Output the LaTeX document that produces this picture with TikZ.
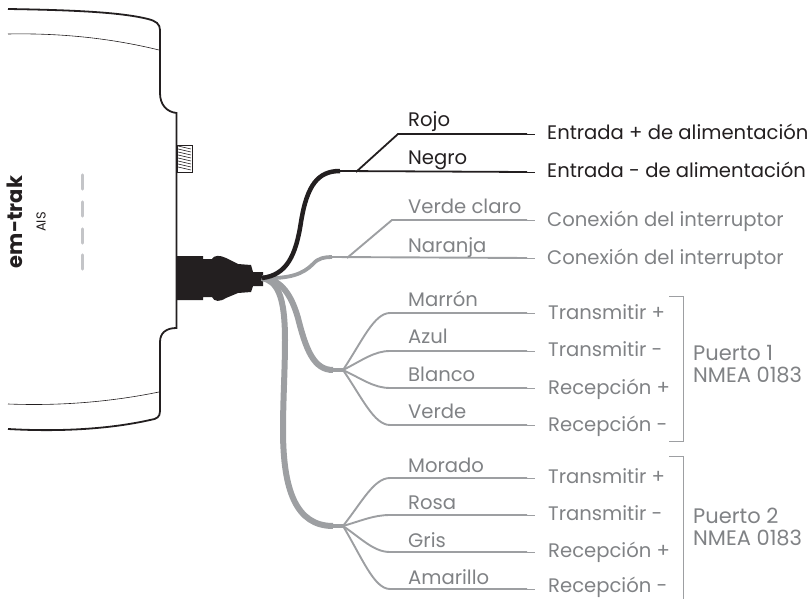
\documentclass[tikz,border=0pt]{standalone}
\usepackage{fontspec}
\setmainfont{Poppins}
\usetikzlibrary{positioning}
\definecolor{wiregray}{HTML}{9D9FA2}
\definecolor{labelgray}{HTML}{808285}
\definecolor{inkblack}{HTML}{231F20}
\definecolor{ledgray}{HTML}{C4C5C8}
\tikzset{%
  blackwire/.style = {draw=inkblack,line width=1.8pt},
  thickblack/.style = {draw=inkblack,line width=4.5pt},
  graywire/.style = {draw=wiregray,line width=1.9pt},
  thickgray/.style = {draw=wiregray,line width=6pt},
  casing/.style = {draw=inkblack,line width=1.8pt},
  hairline/.style = {draw=inkblack,line width=0.6pt},
  colorlabel/.style = {font=\fontsize{19.6}{22}\selectfont,text=labelgray,anchor=base west,inner sep=0pt},
  blacklabel/.style = {colorlabel,text=inkblack},
  portlabel/.style = {colorlabel,font=\fontsize{21}{22}\selectfont},
  tickline/.style = {draw=wiregray,line width=0.6pt}
}
\begin{document}
\begin{tikzpicture}[x=1pt,y=-1pt]
   \useasboundingbox (0,0) rectangle (812,599);
   % unit casing
   \draw[casing] (8,9) .. controls (70,10) and (120,12) .. (148,19) .. controls (156,21) and (160,24) .. (160,30)
      -- (160,93) .. controls (160,105) and (167,112) .. (176.5,113) -- (176.5,328)
      .. controls (166,328) and (160,333) .. (160,342) -- (160,411) .. controls (160,417) and (157,419) .. (150,420)
      .. controls (110,429) and (60,432) .. (8,429);
   \draw[hairline] (8,34) .. controls (60,33) and (110,38) .. (159,50);
   \draw[hairline] (8,404) .. controls (60,406) and (110,402) .. (159,392);
   % antenna thread
   \draw[hairline,line width=0.5pt] (177,145) rectangle (192,172);
   \foreach \yy in {146,149,...,167} \draw[hairline] (178,\yy) -- (191,\yy+3);
   % leds
   \foreach \yy in {174,201,228,254} \draw[draw=ledgray,line width=3.4pt,line cap=round] (82.5,\yy+1) -- (82.5,\yy+15);
   % name
   \node[rotate=90,font=\fontsize{21}{21}\selectfont\bfseries,text=inkblack,inner sep=0pt] (brand) at (14.5,222) {em-trak};
   \node[rotate=90,font=\fontsize{13}{13}\selectfont,text=inkblack,inner sep=0pt] (model) at (41,222) {AIS};
   % connector
   \fill[inkblack] (177,256) -- (203,256) -- (203,259) -- (212,259) .. controls (214,255) and (220,255) .. (226,258)
      -- (238,264) -- (251,265) -- (253,272) -- (263,272) -- (263,286) -- (253,286) -- (251,292)
      -- (238,293) -- (226,298) .. controls (220,302) and (214,302) .. (212,297) -- (203,297) -- (203,300) -- (177,300) -- cycle;
   \coordinate (plug) at (262,278);
   \coordinate (hubA) at (333,370);
   \coordinate (hubB) at (333,526);
   \coordinate (hubC) at (332,257);
   \coordinate (hubD) at (340,171);
   % thick cables
   \draw[thickgray] (plug) .. controls (278,279) and (290,290) .. (298,318) .. controls (306,350) and (314,370) .. (hubA);
   \draw[thickgray] (plug) .. controls (277,281) and (285,295) .. (285,340) .. controls (285,370) and (283,400) .. (283,430)
      .. controls (283,490) and (296,526) .. (hubB);
   \draw[draw=wiregray,line width=3.8pt] (plug) .. controls (290,279) and (303,274) .. (313,264) .. controls (318,258) and (325,257) .. (hubC);
   \draw[thickblack] (plug) .. controls (287,275) and (296,255) .. (301,222) .. controls (307,185) and (318,171) .. (hubD);
   % power wires
   \coordinate (rojoEnd) at (527,134);
   \coordinate (negroEnd) at (527,172);
   \coordinate (rojoTick) at (535,134);
   \coordinate (negroTick) at (535,172);
   \draw[blackwire] (356,172) -- (398,134) -- (rojoEnd);
   \draw[blackwire] (hubD) -- (negroEnd);
   \draw[hairline] (rojoEnd) -- (rojoTick);
   \draw[hairline] (negroEnd) -- (negroTick);
   % switch wires
   \coordinate (verdeclaroEnd) at (527,220);
   \coordinate (naranjaEnd) at (527,258);
   \draw[graywire] (347,258) -- (392,220) -- (verdeclaroEnd);
   \draw[graywire] (hubC) -- (naranjaEnd);
   \draw[tickline] (verdeclaroEnd) -- +(8,0);
   \draw[tickline] (naranjaEnd) -- +(8,0);
   % port wires
   \draw[draw=wiregray,line width=3.4pt] (hubA) -- +(12,0);
   \draw[draw=wiregray,line width=3.4pt] (hubB) -- +(12,0);
   \foreach \hy/\yy in {370/313,370/351,370/388,370/425,526/478,526/515,526/552,526/589}{
     \coordinate (wireEnd) at (527,\yy);
     \draw[graywire] (343,\hy) .. controls (362,{\hy+(\yy-\hy)*0.5}) and (374,\yy) .. (390,\yy) -- (wireEnd);
     \draw[tickline] (wireEnd) -- +(8,0);
   }
   % brackets
   \coordinate (bracketA) at (669,296);
   \coordinate (bracketB) at (669,441);
   \coordinate (bracketC) at (669,456);
   \coordinate (bracketD) at (683,599);
   \draw[tickline,line width=0.8pt] (bracketA) -| (683,441) -- (bracketB);
   \draw[tickline,line width=0.8pt] (bracketC) -| (bracketD);
   % wire colours
   \node[blacklabel] (rojo) at (408,127) {Rojo};
   \node[blacklabel] (negro) at (408,165) {Negro};
   \node[colorlabel] (verdeclaro) at (408,214) {Verde claro};
   \node[colorlabel] (naranja) at (408,252) {Naranja};
   \node[colorlabel] (marron) at (408,306) {Marrón};
   \node[colorlabel] (azul) at (408,343) {Azul};
   \node[colorlabel] (blanco) at (408,381) {Blanco};
   \node[colorlabel] (verde) at (408,418) {Verde};
   \node[colorlabel] (morado) at (408,472) {Morado};
   \node[colorlabel] (rosa) at (408,509) {Rosa};
   \node[colorlabel] (gris) at (408,547) {Gris};
   \node[colorlabel] (amarillo) at (408,584) {Amarillo};
   % functions
   \node[blacklabel] (ealim) at (547,140) {Entrada + de alimentación};
   \node[blacklabel] (salim) at (547,178) {Entrada - de alimentación};
   \node[colorlabel] (con1) at (547,226) {Conexión del interruptor};
   \node[colorlabel] (con2) at (547,264) {Conexión del interruptor};
   \node[colorlabel] (txa) at (548,319) {Transmitir +};
   \node[colorlabel] (txb) at (548,356) {Transmitir -};
   \node[colorlabel] (rxa) at (548,394) {Recepción +};
   \node[colorlabel] (rxb) at (548,431) {Recepción -};
   \node[colorlabel] (txc) at (548,483) {Transmitir +};
   \node[colorlabel] (txd) at (548,520) {Transmitir -};
   \node[colorlabel] (rxc) at (548,557) {Recepción +};
   \node[colorlabel] (rxd) at (548,592) {Recepción -};
   \node[portlabel] (port1) at (693,360) {Puerto 1};
   \node[portlabel] (nmea1) at (693,382) {NMEA 0183};
   \node[portlabel] (port2) at (693,523) {Puerto 2};
   \node[portlabel] (nmea2) at (693,545) {NMEA 0183};
\end{tikzpicture}
\end{document}
